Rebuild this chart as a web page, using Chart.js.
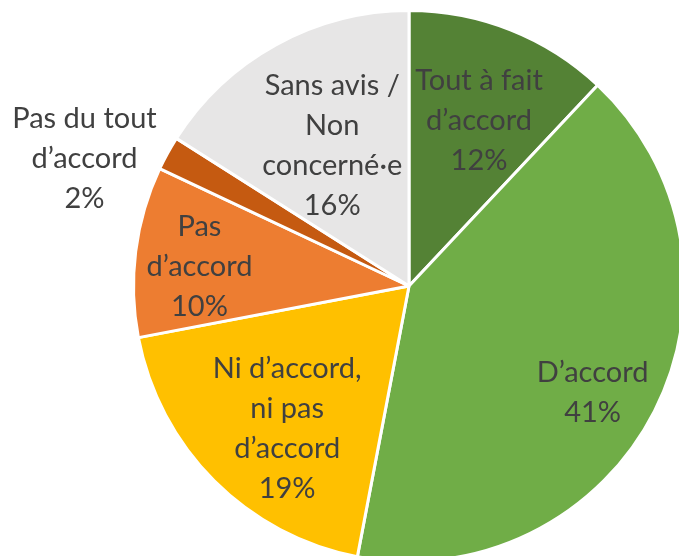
<!DOCTYPE html>
<html>
<head>
<meta charset="utf-8">
<script src="https://cdn.jsdelivr.net/npm/chart.js@4/dist/chart.umd.min.js"></script>
<style>
  html, body { margin: 0; padding: 0; background: #fff; overflow: hidden; }
  #wrap { position: absolute; left: 0; top: 0; width: 700px; height: 580px; }
</style>
</head>
<body>
<div id="wrap"><canvas id="pie-avis" width="700" height="580"></canvas></div>
<script>
// Data
var categories = ['Tout à fait\nd’accord', 'D’accord', 'Ni d’accord,\nni pas\nd’accord', 'Pas\nd’accord', 'Pas du tout\nd’accord', 'Sans avis /\nNon\nconcerné·e'];
var percents = [12, 41, 19, 10, 2, 16];
var sliceColors = ['#548235', '#70AD47', '#FFC000', '#ED7D31', '#C55A11', '#E7E6E6'];

// label placement: distance from centre (fraction of radius) and angle shift (deg)
var labelRadius = [0.653, 0.771, 0.681, 0.764, 1.266, 0.582];
var labelShift = [1.3, 3.2, -4.5, -1.8, -7.3, 0.2];

// draw the data labels inside / next to the slices
var sliceLabels = {
    id: 'sliceLabels',
    afterDatasetsDraw: function (chart) {
        var ctx = chart.ctx;
        var arcs = chart.getDatasetMeta(0).data;
        ctx.save();
        ctx.fillStyle = '#404040';
        ctx.font = '29px Lato';
        ctx.textAlign = 'center';
        ctx.textBaseline = 'middle';
        var lineH = 40;
        arcs.forEach(function (arc, i) {
            var p = arc.getProps(['x', 'y', 'startAngle', 'endAngle', 'outerRadius'], true);
            var mid = (p.startAngle + p.endAngle) / 2 + labelShift[i] * Math.PI / 180;
            var r = p.outerRadius * labelRadius[i];
            var cx = p.x + Math.cos(mid) * r;
            var cy = p.y + Math.sin(mid) * r;
            var lines = categories[i].split('\n');
            lines.push(percents[i] + '%');
            var y0 = cy - (lines.length - 1) * lineH / 2;
            lines.forEach(function (t, k) {
                ctx.fillText(t, cx, y0 + k * lineH);
            });
        });
        ctx.restore();
    }
};

var ctxPie = document.getElementById('pie-avis');

var config = {
    type: 'pie',
    data: {
        labels: categories,
        datasets: [{
            data: percents,
            backgroundColor: sliceColors,
            borderColor: '#ffffff',
            borderWidth: 3
        }]
    },
    options: {
        responsive: false,
        animation: false,
        layout: {
            padding: { left: 132, top: 8, right: 14, bottom: 16 }
        },
        plugins: {
            legend: { display: false },
            tooltip: { enabled: false }
        }
    },
    plugins: [sliceLabels]
};

var pieChart = new Chart(ctxPie, config);
</script>
</body>
</html>
